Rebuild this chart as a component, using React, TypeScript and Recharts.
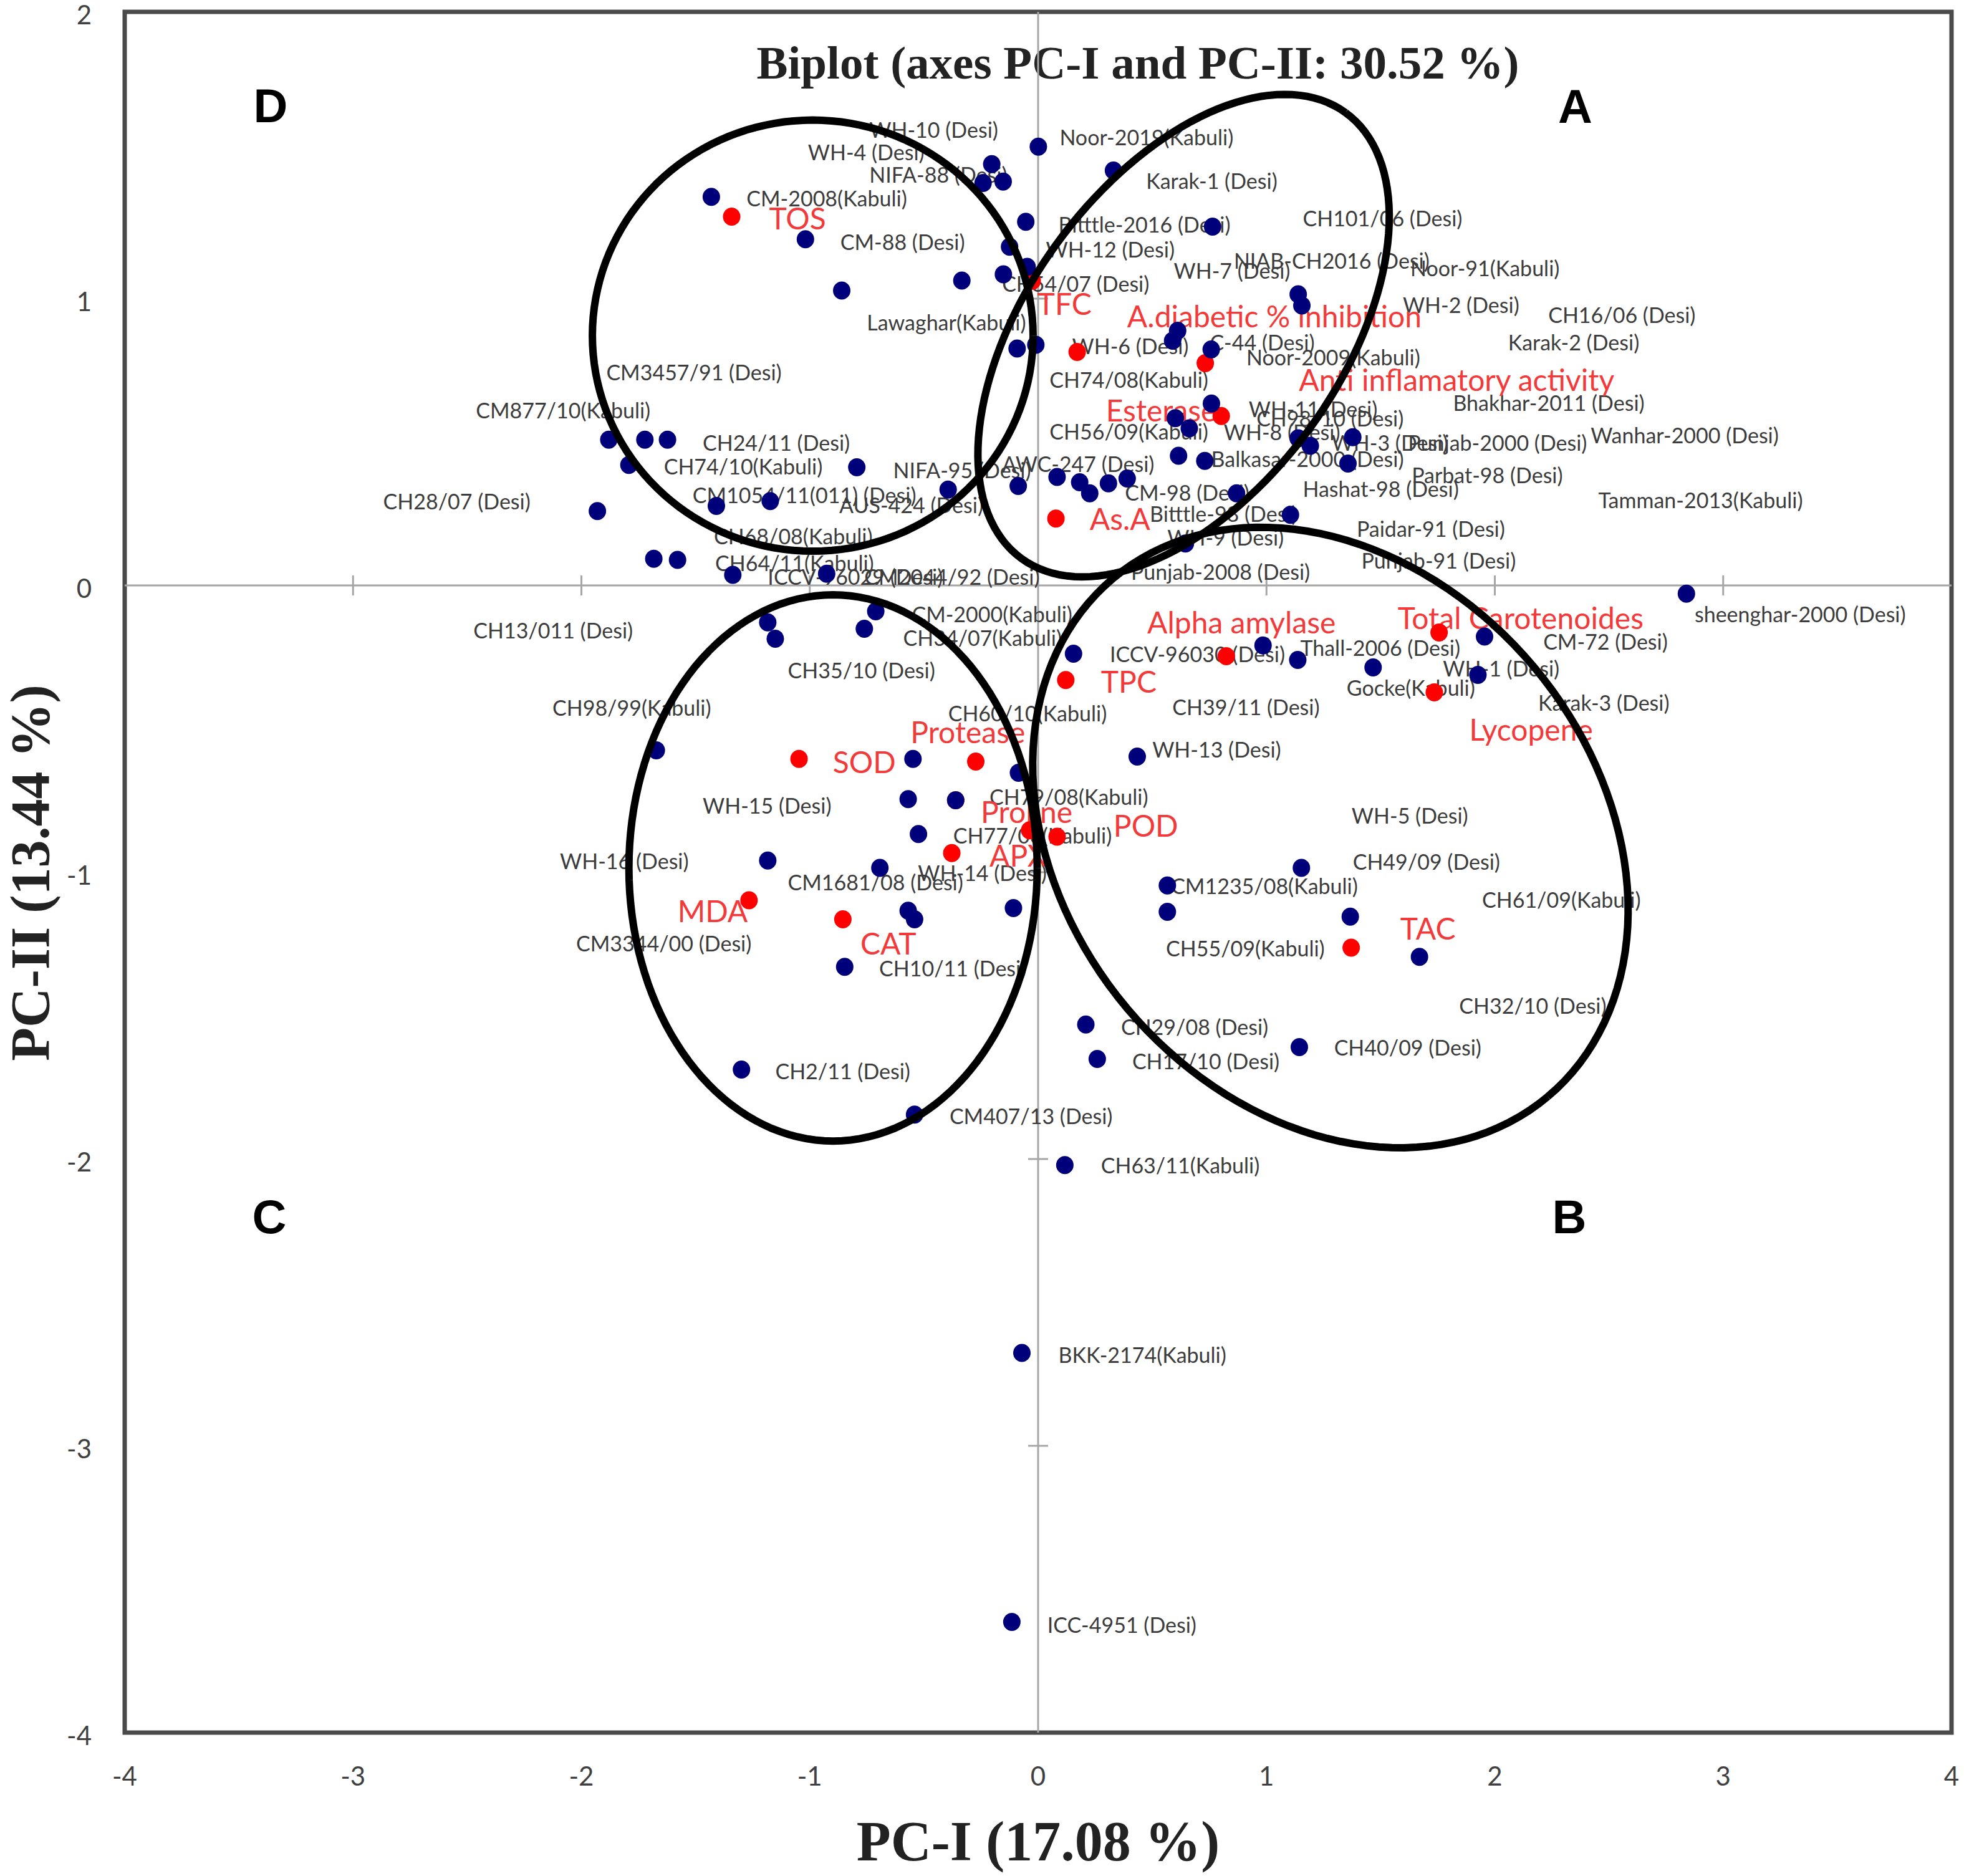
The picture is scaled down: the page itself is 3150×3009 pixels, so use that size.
import React from "react";
import { ScatterChart, Scatter, XAxis, YAxis, ReferenceLine, ReferenceArea, Label } from "recharts";

// chart box (the page is 3150 x 3009)
const WIDTH = 3150;
const HEIGHT = 3009;
const MARGIN = { top: 19, right: 20, bottom: 0, left: 0 };
const Y_AXIS_W = 200;
const X_AXIS_H = 230;
const PLOT_W = WIDTH - MARGIN.left - MARGIN.right - Y_AXIS_W;
const PLOT_H = HEIGHT - MARGIN.top - MARGIN.bottom - X_AXIS_H;

const xTicks = [-4, -3, -2, -1, 0, 1, 2, 3, 4];
const yTicks = [-4, -3, -2, -1, 0, 1, 2];

// small cross marks on the zero lines
const axisMarks = [
  { x: -3, y: 0 }, { x: -2, y: 0 }, { x: -1, y: 0 }, { x: 1, y: 0 }, { x: 2, y: 0 }, { x: 3, y: 0 },
  { x: 0, y: 1 }, { x: 0, y: -1 }, { x: 0, y: -2 }, { x: 0, y: -3 },
];

// observations (genotypes), PC-I / PC-II scores
const genotypePoints = [
  { x: -1.431, y: 1.355 }, { x: -1.019, y: 1.207 }, { x: -0.86, y: 1.028 }, { x: -0.334, y: 1.063 },
  { x: -1.88, y: 0.508 }, { x: -1.722, y: 0.508 }, { x: -1.623, y: 0.508 }, { x: -1.792, y: 0.42 },
  { x: -1.93, y: 0.259 }, { x: -1.409, y: 0.277 }, { x: -1.173, y: 0.294 }, { x: -0.794, y: 0.412 },
  { x: -0.394, y: 0.334 }, { x: -1.683, y: 0.093 }, { x: -1.579, y: 0.089 }, { x: -1.337, y: 0.037 },
  { x: -0.926, y: 0.041 },
  { x: 0.001, y: 1.53 }, { x: 0.33, y: 1.447 }, { x: -0.203, y: 1.469 }, { x: -0.241, y: 1.403 },
  { x: -0.153, y: 1.408 }, { x: -0.054, y: 1.268 }, { x: 0.764, y: 1.251 }, { x: -0.125, y: 1.181 },
  { x: -0.152, y: 1.085 }, { x: -0.048, y: 1.111 }, { x: -0.092, y: 0.826 }, { x: -0.01, y: 0.839 },
  { x: 0.611, y: 0.888 }, { x: 0.589, y: 0.853 }, { x: 0.758, y: 0.823 }, { x: 1.139, y: 1.015 },
  { x: 1.155, y: 0.976 }, { x: 0.759, y: 0.634 }, { x: 0.601, y: 0.583 }, { x: 0.662, y: 0.548 },
  { x: 1.139, y: 0.513 }, { x: 1.192, y: 0.487 }, { x: 1.378, y: 0.517 }, { x: 1.357, y: 0.425 },
  { x: 0.615, y: 0.452 }, { x: 0.73, y: 0.434 }, { x: 0.083, y: 0.378 }, { x: 0.182, y: 0.36 },
  { x: 0.226, y: 0.321 }, { x: 0.308, y: 0.356 }, { x: 0.39, y: 0.373 }, { x: -0.087, y: 0.347 },
  { x: 0.869, y: 0.321 }, { x: 1.105, y: 0.246 }, { x: 0.645, y: 0.146 },
  { x: 2.839, y: -0.029 }, { x: 1.955, y: -0.178 }, { x: 0.985, y: -0.209 }, { x: 1.137, y: -0.26 },
  { x: 1.467, y: -0.286 }, { x: 1.926, y: -0.312 }, { x: 0.155, y: -0.238 }, { x: 0.434, y: -0.597 },
  { x: 1.153, y: -0.985 }, { x: 0.566, y: -1.046 }, { x: 0.566, y: -1.138 }, { x: 1.367, y: -1.155 },
  { x: 1.67, y: -1.295 }, { x: 0.209, y: -1.531 }, { x: 0.259, y: -1.651 }, { x: 1.144, y: -1.61 },
  { x: 0.117, y: -2.021 }, { x: -0.071, y: -2.676 }, { x: -0.115, y: -3.614 }, { x: -0.541, y: -1.845 },
  { x: -1.184, y: -0.129 }, { x: -1.151, y: -0.186 }, { x: -0.711, y: -0.09 }, { x: -0.761, y: -0.151 },
  { x: -1.672, y: -0.575 }, { x: -0.548, y: -0.605 }, { x: -0.086, y: -0.653 }, { x: -0.569, y: -0.745 },
  { x: -0.361, y: -0.749 }, { x: -0.524, y: -0.867 }, { x: -1.184, y: -0.959 }, { x: -0.693, y: -0.985 },
  { x: -0.569, y: -1.134 }, { x: -0.541, y: -1.164 }, { x: -0.108, y: -1.125 }, { x: -0.847, y: -1.33 },
  { x: -1.299, y: -1.688 },
];

// variables (biochemical traits)
const variablePoints = [
  { x: -1.342, y: 1.286 }, { x: -0.026, y: 1.062 }, { x: 0.171, y: 0.814 }, { x: 0.732, y: 0.775 },
  { x: 0.802, y: 0.591 }, { x: 0.078, y: 0.233 }, { x: 0.824, y: -0.247 }, { x: 1.756, y: -0.164 },
  { x: 1.735, y: -0.373 }, { x: 0.121, y: -0.33 }, { x: -1.047, y: -0.605 }, { x: -0.273, y: -0.614 },
  { x: -0.361, y: -0.749 }, { x: -0.037, y: -0.854 }, { x: 0.083, y: -0.876 }, { x: -0.378, y: -0.933 },
  { x: -1.266, y: -1.098 }, { x: -0.855, y: -1.164 }, { x: 1.371, y: -1.263 },
];

const variableLabels = [
  { name: "TOS", x: -1.178, y: 1.281 },
  { name: "TFC", x: -0.004, y: 0.984 },
  { name: "A.diabetic % inhibition", x: 0.39, y: 0.941 },
  { name: "Anti inflamatory activity", x: 1.142, y: 0.718 },
  { name: "Esterase", x: 0.297, y: 0.613 },
  { name: "As.A", x: 0.226, y: 0.233 },
  { name: "Alpha amylase", x: 0.478, y: -0.128 },
  { name: "Total Carotenoides", x: 1.575, y: -0.112 },
  { name: "TPC", x: 0.275, y: -0.334 },
  { name: "Lycopene", x: 1.888, y: -0.5 },
  { name: "Protease", x: -0.559, y: -0.509 },
  { name: "SOD", x: -0.899, y: -0.614 },
  { name: "Proline", x: -0.251, y: -0.788 },
  { name: "POD", x: 0.33, y: -0.836 },
  { name: "APX", x: -0.213, y: -0.941 },
  { name: "MDA", x: -1.579, y: -1.134 },
  { name: "CAT", x: -0.778, y: -1.247 },
  { name: "TAC", x: 1.586, y: -1.195 },
];

const genotypeLabels = [
  { name: "WH-10 (Desi)", x: -0.739, y: 1.591 },
  { name: "WH-4 (Desi)", x: -1.008, y: 1.513 },
  { name: "NIFA-88 (Desi)", x: -0.739, y: 1.434 },
  { name: "Noor-2019(Kabuli)", x: 0.094, y: 1.565 },
  { name: "Karak-1 (Desi)", x: 0.473, y: 1.412 },
  { name: "CM-2008(Kabuli)", x: -1.277, y: 1.351 },
  { name: "CM-88 (Desi)", x: -0.866, y: 1.198 },
  { name: "Bitttle-2016 (Desi)", x: 0.089, y: 1.259 },
  { name: "CH101/06 (Desi)", x: 1.159, y: 1.281 },
  { name: "WH-12 (Desi)", x: 0.034, y: 1.172 },
  { name: "NIAB-CH2016 (Desi)", x: 0.857, y: 1.133 },
  { name: "WH-7 (Desi)", x: 0.594, y: 1.098 },
  { name: "Noor-91(Kabuli)", x: 1.63, y: 1.107 },
  { name: "CH54/07 (Desi)", x: -0.158, y: 1.054 },
  { name: "WH-2 (Desi)", x: 1.597, y: 0.98 },
  { name: "CH16/06 (Desi)", x: 2.234, y: 0.945 },
  { name: "Lawaghar(Kabuli)", x: -0.75, y: 0.919 },
  { name: "WH-6 (Desi)", x: 0.149, y: 0.836 },
  { name: "C-44 (Desi)", x: 0.752, y: 0.849 },
  { name: "Karak-2 (Desi)", x: 2.058, y: 0.849 },
  { name: "Noor-2009(Kabuli)", x: 0.912, y: 0.797 },
  { name: "CH74/08(Kabuli)", x: 0.05, y: 0.718 },
  { name: "CM3457/91 (Desi)", x: -1.891, y: 0.744 },
  { name: "Bhakhar-2011 (Desi)", x: 1.817, y: 0.639 },
  { name: "CM877/10(Kabuli)", x: -2.462, y: 0.613 },
  { name: "WH-11 (Desi)", x: 0.922, y: 0.617 },
  { name: "CH98/10 (Desi)", x: 0.956, y: 0.583 },
  { name: "WH-8 (Desi)", x: 0.813, y: 0.535 },
  { name: "CH56/09(Kabuli)", x: 0.05, y: 0.539 },
  { name: "CH24/11 (Desi)", x: -1.469, y: 0.5 },
  { name: "WH-3 (Desi)", x: 1.285, y: 0.5 },
  { name: "Punjab-2000 (Desi)", x: 1.62, y: 0.5 },
  { name: "Wanhar-2000 (Desi)", x: 2.42, y: 0.526 },
  { name: "Balkasar-2000 (Desi)", x: 0.758, y: 0.443 },
  { name: "CH74/10(Kabuli)", x: -1.639, y: 0.417 },
  { name: "NIFA-95 (Desi)", x: -0.635, y: 0.404 },
  { name: "AWC-247 (Desi)", x: -0.158, y: 0.425 },
  { name: "Parbat-98 (Desi)", x: 1.636, y: 0.386 },
  { name: "CM-98 (Desi)", x: 0.38, y: 0.325 },
  { name: "Hashat-98 (Desi)", x: 1.159, y: 0.338 },
  { name: "Tamman-2013(Kabuli)", x: 2.453, y: 0.299 },
  { name: "CH28/07 (Desi)", x: -2.868, y: 0.294 },
  { name: "CM1054/11(011) (Desi)", x: -1.513, y: 0.316 },
  { name: "AUS-424 (Desi)", x: -0.871, y: 0.281 },
  { name: "Bitttle-98 (Desi)", x: 0.489, y: 0.251 },
  { name: "WH-9 (Desi)", x: 0.566, y: 0.168 },
  { name: "Paidar-91 (Desi)", x: 1.395, y: 0.199 },
  { name: "CH68/08(Kabuli)", x: -1.42, y: 0.172 },
  { name: "Punjab-91 (Desi)", x: 1.416, y: 0.089 },
  { name: "CH64/11(Kabuli)", x: -1.414, y: 0.08 },
  { name: "Punjab-2008 (Desi)", x: 0.407, y: 0.05 },
  { name: "ICCV-96029 (Desi)", x: -1.184, y: 0.032 },
  { name: "CM2044/92 (Desi)", x: -0.761, y: 0.032 },
  { name: "sheenghar-2000 (Desi)", x: 2.875, y: -0.098 },
  { name: "CH13/011 (Desi)", x: -2.473, y: -0.155 },
  { name: "CM-2000(Kabuli)", x: -0.553, y: -0.098 },
  { name: "CH34/07(Kabuli)", x: -0.591, y: -0.181 },
  { name: "CM-72 (Desi)", x: 2.212, y: -0.195 },
  { name: "ICCV-96030 (Desi)", x: 0.314, y: -0.238 },
  { name: "Thall-2006 (Desi)", x: 1.148, y: -0.217 },
  { name: "WH-1 (Desi)", x: 1.773, y: -0.287 },
  { name: "CH35/10 (Desi)", x: -1.096, y: -0.295 },
  { name: "Gocke(Kabuli)", x: 1.351, y: -0.356 },
  { name: "Karak-3 (Desi)", x: 2.19, y: -0.408 },
  { name: "CH39/11 (Desi)", x: 0.588, y: -0.422 },
  { name: "CH98/99(Kabuli)", x: -2.127, y: -0.426 },
  { name: "CH60/10(Kabuli)", x: -0.394, y: -0.444 },
  { name: "WH-13 (Desi)", x: 0.5, y: -0.57 },
  { name: "CH79/08(Kabuli)", x: -0.213, y: -0.736 },
  { name: "WH-15 (Desi)", x: -1.469, y: -0.767 },
  { name: "WH-5 (Desi)", x: 1.373, y: -0.802 },
  { name: "CH77/08(Kabuli)", x: -0.372, y: -0.871 },
  { name: "WH-16 (Desi)", x: -2.094, y: -0.959 },
  { name: "CH49/09 (Desi)", x: 1.378, y: -0.963 },
  { name: "WH-14 (Desi)", x: -0.526, y: -1.002 },
  { name: "CM1681/08 (Desi)", x: -1.096, y: -1.033 },
  { name: "CM1235/08(Kabuli)", x: 0.582, y: -1.046 },
  { name: "CH61/09(Kabuli)", x: 1.944, y: -1.094 },
  { name: "CM3344/00 (Desi)", x: -2.023, y: -1.247 },
  { name: "CH55/09(Kabuli)", x: 0.56, y: -1.264 },
  { name: "CH10/11 (Desi)", x: -0.696, y: -1.334 },
  { name: "CH32/10 (Desi)", x: 1.844, y: -1.465 },
  { name: "CH29/08 (Desi)", x: 0.363, y: -1.539 },
  { name: "CH17/10 (Desi)", x: 0.412, y: -1.657 },
  { name: "CH40/09 (Desi)", x: 1.296, y: -1.609 },
  { name: "CH2/11 (Desi)", x: -1.151, y: -1.692 },
  { name: "CM407/13 (Desi)", x: -0.388, y: -1.849 },
  { name: "CH63/11(Kabuli)", x: 0.275, y: -2.02 },
  { name: "BKK-2174(Kabuli)", x: 0.089, y: -2.681 },
  { name: "ICC-4951 (Desi)", x: 0.04, y: -3.622 },
];

const groupLetters = [
  { name: "D", x: -3.361, y: 1.672 },
  { name: "A", x: 2.352, y: 1.671 },
  { name: "C", x: -3.367, y: -2.2 },
  { name: "B", x: 2.326, y: -2.2 },
];

// group ellipses: centre, semi-axes (in PC-I units) and screen tilt in degrees
const groupEllipses = [
  { id: "D", cx: -0.987, cy: 0.871, a: 0.965, b: 0.944, angle: 0 },
  { id: "A", cx: 0.637, cy: 0.871, a: 1.207, b: 0.686, angle: -54 },
  { id: "B", cx: 1.28, cy: -0.879, a: 1.481, b: 1.163, angle: 50 },
  { id: "C", cx: -0.898, cy: -0.985, a: 0.894, b: 1.196, angle: 0 },
];

const ellipseOutline = (e: { cx: number; cy: number; a: number; b: number; angle: number }) => {
  const ratio = PLOT_W / 8 / (PLOT_H / 6);
  const th = (e.angle * Math.PI) / 180;
  const pts: { x: number; y: number }[] = [];
  for (let i = 0; i <= 144; i++) {
    const t = (i / 144) * Math.PI * 2;
    const dx = e.a * Math.cos(t) * Math.cos(th) - e.b * Math.sin(t) * Math.sin(th);
    const dy = e.a * Math.cos(t) * Math.sin(th) + e.b * Math.sin(t) * Math.cos(th);
    pts.push({ x: e.cx + dx, y: e.cy - dy * ratio });
  }
  return pts;
};

const SANS = "Lato, 'Noto Sans', sans-serif";
const SERIF = "'Liberation Serif', 'Times New Roman', serif";

const XTick = (props: any) => {
  const { x, y, payload } = props;
  return (
    <text x={x} y={y + 69} textAnchor="middle" dominantBaseline="central" fontSize={42} fontFamily={SANS} fill="#404040">
      {payload.value}
    </text>
  );
};

const YTick = (props: any) => {
  const { x, y, payload } = props;
  return (
    <text x={x - 53} y={y + 4} textAnchor="end" dominantBaseline="central" fontSize={42} fontFamily={SANS} fill="#404040">
      {payload.value}
    </text>
  );
};

const GenotypeDot = (props: any) => <ellipse cx={props.cx} cy={props.cy} rx={14} ry={14.5} fill="#00007a" />;
const VariableDot = (props: any) => <ellipse cx={props.cx} cy={props.cy} rx={14} ry={14.5} fill="#ff0000" />;

const GenotypeText = (props: any) => (
  <text x={props.cx} y={props.cy} dominantBaseline="central" fontSize={34} fontFamily={SANS} fill="#3c3c3c">
    {props.payload.name}
  </text>
);

const VariableText = (props: any) => (
  <text x={props.cx} y={props.cy} dominantBaseline="central" fontSize={48} fontFamily={SANS} fill="#f23a3a">
    {props.payload.name}
  </text>
);

const LetterText = (props: any) => (
  <text
    x={props.cx}
    y={props.cy}
    textAnchor="middle"
    dominantBaseline="central"
    fontSize={76}
    fontWeight="bold"
    fontFamily="'Liberation Sans', Arial, sans-serif"
    fill="#000"
  >
    {props.payload.name}
  </text>
);

const AxisMark = (props: any) => {
  const { cx, cy, payload } = props;
  const vertical = payload.y === 0;
  return vertical ? (
    <line x1={cx} x2={cx} y1={cy - 16} y2={cy + 16} stroke="#a6a6a6" strokeWidth={3} />
  ) : (
    <line x1={cx - 16} x2={cx + 16} y1={cy} y2={cy} stroke="#a6a6a6" strokeWidth={3} />
  );
};

const Nothing = () => <g />;

export default function App() {
  return (
    <div style={{ position: "absolute", left: 0, top: 0, width: WIDTH, height: HEIGHT, background: "#fff" }}>
      <ScatterChart width={WIDTH} height={HEIGHT} margin={MARGIN}>
        <XAxis
          type="number"
          dataKey="x"
          domain={[-4, 4]}
          ticks={xTicks}
          interval={0}
          axisLine={false}
          tickLine={false}
          tickSize={0}
          tickMargin={0}
          height={X_AXIS_H}
          tick={<XTick />}
        >
          <Label
            content={(p: any) => {
              const vb = p.viewBox || { x: 0, y: 0, width: 0, height: 0 };
              return (
                <text
                  x={vb.x + vb.width / 2}
                  y={vb.y + 174}
                  textAnchor="middle"
                  dominantBaseline="central"
                  fontSize={90}
                  fontWeight="bold"
                  fontFamily={SERIF}
                  fill="#222"
                >
                  PC-I (17.08 %)
                </text>
              );
            }}
          />
        </XAxis>
        <YAxis
          type="number"
          dataKey="y"
          domain={[-4, 2]}
          ticks={yTicks}
          interval={0}
          axisLine={false}
          tickLine={false}
          tickSize={0}
          tickMargin={0}
          width={Y_AXIS_W}
          tick={<YTick />}
        >
          <Label
            content={(p: any) => {
              const vb = p.viewBox || { x: 0, y: 0, width: 0, height: 0 };
              const cx = vb.x + 78;
              const cy = vb.y + 1381;
              return (
                <text
                  x={cx}
                  y={cy}
                  transform={`rotate(-90 ${cx} ${cy})`}
                  textAnchor="middle"
                  fontSize={88}
                  fontWeight="bold"
                  fontFamily={SERIF}
                  fill="#222"
                >
                  PC-II (13.44 %)
                </text>
              );
            }}
          />
        </YAxis>

        <ReferenceArea x1={-4} x2={4} y1={-4} y2={2} fill="none" stroke="#4a4a4a" strokeWidth={7}>
          <Label
            content={(p: any) => {
              const vb = p.viewBox || { x: 0, y: 0, width: 0, height: 0 };
              return (
                <text
                  x={vb.x + vb.width * 0.5546}
                  y={vb.y + 81}
                  textAnchor="middle"
                  dominantBaseline="central"
                  fontSize={75}
                  fontWeight="bold"
                  fontFamily={SERIF}
                  fill="#222"
                >
                  Biplot (axes PC-I and PC-II: 30.52 %)
                </text>
              );
            }}
          />
        </ReferenceArea>
        <ReferenceLine y={0} stroke="#a6a6a6" strokeWidth={3} />
        <ReferenceLine x={0} stroke="#a6a6a6" strokeWidth={3} />

        <Scatter data={axisMarks} shape={<AxisMark />} isAnimationActive={false} legendType="none" />
        <Scatter data={genotypeLabels} shape={<GenotypeText />} isAnimationActive={false} legendType="none" />
        <Scatter data={variableLabels} shape={<VariableText />} isAnimationActive={false} legendType="none" />
        <Scatter data={variablePoints} shape={<VariableDot />} isAnimationActive={false} legendType="none" />
        <Scatter data={genotypePoints} shape={<GenotypeDot />} isAnimationActive={false} legendType="none" />
        <Scatter data={groupLetters} shape={<LetterText />} isAnimationActive={false} legendType="none" />
        {groupEllipses.map((e) => (
          <Scatter
            key={e.id}
            data={ellipseOutline(e)}
            shape={<Nothing />}
            line={{ stroke: "#000", strokeWidth: 12, fill: "none" }}
            lineJointType="linear"
            isAnimationActive={false}
            legendType="none"
          />
        ))}
      </ScatterChart>
    </div>
  );
}
